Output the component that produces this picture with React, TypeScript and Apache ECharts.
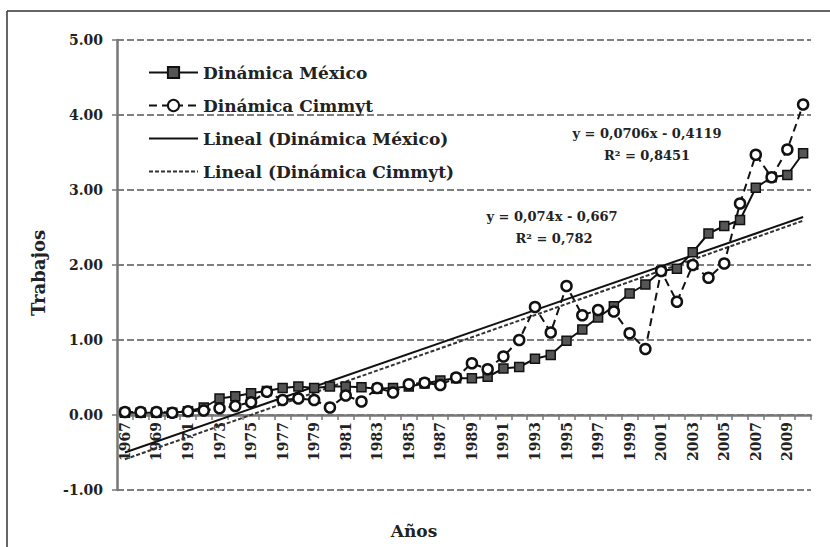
import React, { useEffect, useRef } from "react";
import * as echarts from "echarts";

const years: string[] = [
  "1967","1968","1969","1970","1971","1972","1973","1974","1975","1976",
  "1977","1978","1979","1980","1981","1982","1983","1984","1985","1986",
  "1987","1988","1989","1990","1991","1992","1993","1994","1995","1996",
  "1997","1998","1999","2000","2001","2002","2003","2004","2005","2006",
  "2007","2008","2009","2010",
];

const mexico: number[] = [
  0.03, 0.03, 0.03, 0.03, 0.05, 0.1, 0.22, 0.25, 0.29, 0.32,
  0.36, 0.38, 0.36, 0.38, 0.38, 0.37, 0.35, 0.36, 0.38, 0.42,
  0.46, 0.49, 0.49, 0.51, 0.62, 0.64, 0.75, 0.8, 0.99, 1.14,
  1.3, 1.45, 1.62, 1.74, 1.92, 1.95, 2.17, 2.42, 2.52, 2.6,
  3.03, 3.17, 3.2, 3.49,
];

const cimmyt: number[] = [
  0.04, 0.04, 0.04, 0.03, 0.05, 0.06, 0.09, 0.12, 0.17, 0.31,
  0.2, 0.22, 0.2, 0.1, 0.26, 0.18, 0.36, 0.3, 0.41, 0.43,
  0.4, 0.5, 0.69, 0.61, 0.78, 1.0, 1.44, 1.1, 1.72, 1.33,
  1.4, 1.38, 1.09, 0.88, 1.92, 1.51, 2.0, 1.83, 2.02, 2.82,
  3.47, 3.17, 3.54, 4.14,
];

// trend line end points (first and last year), as drawn
const trendMexico: [string, number][] = [["1967", -0.5], ["2010", 2.64]];
const trendCimmyt: [string, number][] = [["1967", -0.59], ["2010", 2.59]];

const seriesNames = [
  "Dinámica México",
  "Dinámica Cimmyt",
  "Lineal (Dinámica México)",
  "Lineal (Dinámica Cimmyt)",
];

const eqMexico = ["y = 0,0706x - 0,4119", "R² = 0,8451"];
const eqCimmyt = ["y = 0,074x - 0,667", "R² = 0,782"];

const FONT = "DejaVu Serif";

export default function App() {
  const ref = useRef<HTMLDivElement>(null);

  useEffect(() => {
    document.body.style.margin = "0";
    const chart = echarts.init(ref.current!, null, { renderer: "svg" });
    const txt = (text: string, x: number, y: number, size: number, rot = 0) => ({
      type: "text",
      x,
      y,
      rotation: rot,
      style: {
        text,
        fontFamily: FONT,
        fontWeight: "bold",
        fontSize: size,
        fill: "#222",
        align: "center",
        verticalAlign: "middle",
      },
    });
    chart.setOption({
      animation: false,
      backgroundColor: "#fff",
      grid: { left: 117, right: 19, top: 40, bottom: 57, containLabel: false },
      legend: {
        orient: "vertical",
        left: 143,
        top: 59,
        itemWidth: 49,
        itemHeight: 14,
        itemGap: 16,
        data: [
          { name: seriesNames[0] },
          { name: seriesNames[1] },
          { name: seriesNames[2], itemStyle: { opacity: 0 } },
          { name: seriesNames[3], itemStyle: { opacity: 0 } },
        ],
        textStyle: {
          fontFamily: FONT,
          fontWeight: "bold",
          fontSize: 17,
          lineHeight: 17,
          color: "#222",
        },
      },
      xAxis: {
        type: "category",
        data: years,
        boundaryGap: true,
        position: "bottom",
        offset: -75,
        axisLine: { onZero: false, lineStyle: { color: "#777", width: 2.5 } },
        axisTick: { show: true, interval: 0, length: 5, lineStyle: { color: "#777", width: 1.5 } },
        axisLabel: {
          interval: 1,
          rotate: 90,
          margin: 7,
          fontFamily: FONT,
          fontWeight: "bold",
          fontSize: 14,
          color: "#222",
        },
        splitLine: { show: false },
      },
      yAxis: {
        type: "value",
        min: -1,
        max: 5,
        interval: 1,
        axisLine: { show: true, lineStyle: { color: "#777", width: 2.5 } },
        axisTick: { show: true, length: 5, lineStyle: { color: "#777", width: 1.5 } },
        axisLabel: {
          formatter: (v: number) => v.toFixed(2),
          margin: 14,
          fontFamily: FONT,
          fontWeight: "bold",
          fontSize: 14,
          color: "#222",
        },
        splitLine: { show: true, lineStyle: { color: "#555", width: 1.5, type: [7, 3] } },
      },
      series: [
        {
          name: seriesNames[0],
          type: "line",
          data: mexico,
          symbol: "rect",
          symbolSize: 9,
          itemStyle: { color: "#555", borderColor: "#111", borderWidth: 1.5 },
          lineStyle: { color: "#111", width: 2 },
          z: 3,
        },
        {
          name: seriesNames[1],
          type: "line",
          data: cimmyt,
          symbol: "circle",
          symbolSize: 10,
          showAllSymbol: true,
          itemStyle: { color: "#fff", borderColor: "#111", borderWidth: 2.5 },
          lineStyle: { color: "#111", width: 2, type: [8, 5] },
          z: 4,
        },
        {
          name: seriesNames[2],
          type: "line",
          data: trendMexico,
          symbol: "none",
          lineStyle: { color: "#111", width: 2 },
          itemStyle: { color: "#111" },
          z: 2,
        },
        {
          name: seriesNames[3],
          type: "line",
          data: trendCimmyt,
          symbol: "none",
          lineStyle: { color: "#333", width: 2, type: [4, 2] },
          itemStyle: { color: "#333" },
          z: 2,
        },
      ],
      graphic: [
        {
          type: "line",
          shape: { x1: 7, y1: 11, x2: 830, y2: 11 },
          style: { stroke: "#333", lineWidth: 1.5 },
        },
        {
          type: "line",
          shape: { x1: 7, y1: 11, x2: 7, y2: 547 },
          style: { stroke: "#333", lineWidth: 1.5 },
        },
        txt("Trabajos", 38, 273, 18, Math.PI / 2),
        txt("Años", 414, 531, 17),
        txt(eqMexico[0], 647, 133, 13),
        txt(eqMexico[1], 647, 155, 13),
        txt(eqCimmyt[0], 552, 216, 13),
        txt(eqCimmyt[1], 554, 238, 13),
      ],
    });
    return () => chart.dispose();
  }, []);

  return <div ref={ref} style={{ width: 830, height: 547 }} />;
}
